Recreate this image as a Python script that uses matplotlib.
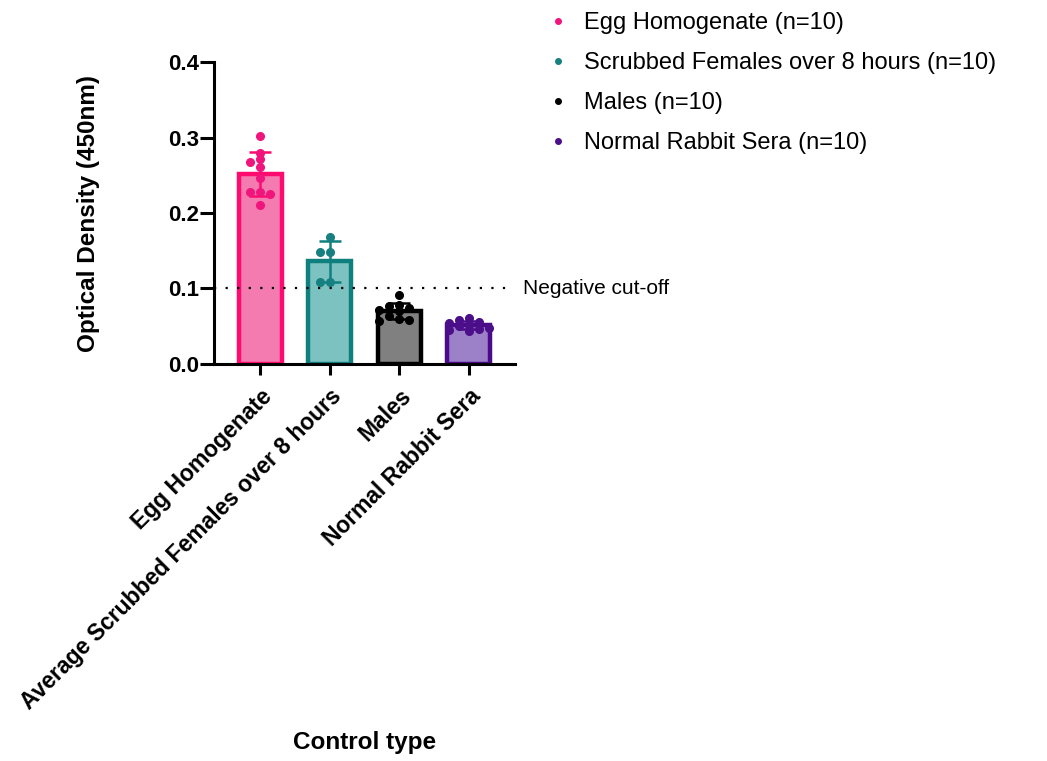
import matplotlib
matplotlib.use("Agg")
import matplotlib.pyplot as plt
from matplotlib.lines import Line2D
from matplotlib.ticker import FormatStrFormatter
import numpy as np

plt.rcParams['font.family'] = ['Liberation Sans', 'DejaVu Sans']

# data (OD at 450nm)
categories = ["Egg Homogenate", "Average Scrubbed Females over 8 hours",
              "Males", "Normal Rabbit Sera"]
legend_labels = ["Egg Homogenate (n=10)", "Scrubbed Females over 8 hours (n=10)",
                 "Males (n=10)", "Normal Rabbit Sera (n=10)"]
egg = [0.302, 0.280, 0.272, 0.267, 0.261, 0.246, 0.228, 0.228, 0.225, 0.210]
scrubbed = [0.168, 0.149, 0.148, 0.108, 0.108]
males = [0.092, 0.078, 0.077, 0.074, 0.071, 0.070, 0.063, 0.060, 0.058, 0.057]
rabbit = [0.061, 0.058, 0.055, 0.054, 0.052, 0.050, 0.048, 0.047, 0.045, 0.044]
cutoff = 0.1

groups = [egg, scrubbed, males, rabbit]
edge_colors = ["#ff0a6e", "#10807f", "#000000", "#4a0a8c"]
fill_colors = ["#f47bb0", "#7cc2c0", "#808080", "#9c80c8"]
dot_colors = ["#f0157c", "#178080", "#000000", "#4b0f8a"]

fig = plt.figure(figsize=(10.47, 7.61), dpi=100)
ax = fig.add_axes([0.2044, 0.5217, 0.2875, 0.3968])

x = np.arange(len(categories))
means = [np.mean(g) for g in groups]
sds = [np.std(g, ddof=1) for g in groups]

ax.bar(x, means, width=0.62, color=fill_colors, edgecolor=edge_colors,
       linewidth=3.2, zorder=2)
for i in range(len(groups)):
    ax.errorbar(x[i], means[i], yerr=sds[i], color=edge_colors[i], capsize=8,
                capthick=1.8, elinewidth=1.8, fmt='none', zorder=3)

ax.set_xlim(-0.67, 3.67)
ax.set_ylim(0, 0.4)


def swarm(vals, step_px, min_px):
    # simple beeswarm: keep points in a column unless they would overlap
    ppu_x = ax.transData.transform((1, 0))[0] - ax.transData.transform((0, 0))[0]
    ppu_y = ax.transData.transform((0, 1))[1] - ax.transData.transform((0, 0))[1]
    placed = []
    offs = []
    for v in vals:
        yp = v * ppu_y
        k = 0
        while True:
            cand = (k + 1) // 2 * (-1 if k % 2 else 1) * step_px
            if all(np.hypot(cand - px, yp - py) >= min_px for px, py in placed):
                break
            k += 1
        placed.append((cand, yp))
        offs.append(cand / ppu_x)
    return np.array(offs)


for i, g in enumerate(groups):
    offs = swarm(g, 10, 5.5)
    ax.plot(x[i] + offs, g, 'o', color=dot_colors[i], markersize=5.5,
            zorder=4, clip_on=False)

ax.axhline(cutoff, xmin=0, xmax=0.99, color='black', linewidth=1.6,
           linestyle=(0, (1, 4.2)), zorder=5)
ax.text(1.025, cutoff, "Negative cut-off", transform=ax.get_yaxis_transform(),
        va='center', ha='left', fontsize=15)

ax.spines['top'].set_visible(False)
ax.spines['right'].set_visible(False)
ax.spines['left'].set_linewidth(2.2)
ax.spines['bottom'].set_linewidth(2.2)
ax.yaxis.set_major_formatter(FormatStrFormatter('%.1f'))
ax.set_yticks([0, 0.1, 0.2, 0.3, 0.4])
ax.tick_params(axis='y', length=10, width=2.2, pad=1, labelsize=16)
ax.tick_params(axis='x', length=8, width=2.2, pad=7, labelsize=16.5)
ax.set_xticks(x)
ax.set_xticklabels(categories, rotation=45, ha='right', va='top',
                   rotation_mode='anchor', fontweight='bold')
for lab in ax.get_yticklabels():
    lab.set_fontweight('bold')

ax.set_ylabel("Optical Density (450nm)", fontsize=17.5, fontweight='bold')
ax.yaxis.set_label_coords(-0.38, 0.5)
fig.text(365 / 1047, 1 - 743 / 761, "Control type", fontsize=17.5,
         fontweight='bold', ha='center', va='center')

handles = [Line2D([], [], marker='o', linestyle='none', color=c, markersize=4)
           for c in dot_colors]
fig.legend(handles, legend_labels, loc='upper left',
           bbox_to_anchor=(534 / 1047, 1.0), frameon=False, fontsize=17,
           handlelength=1.0, handletextpad=0.6, labelspacing=0.77,
           borderaxespad=0.1)

fig.savefig("out.png", dpi=100)
